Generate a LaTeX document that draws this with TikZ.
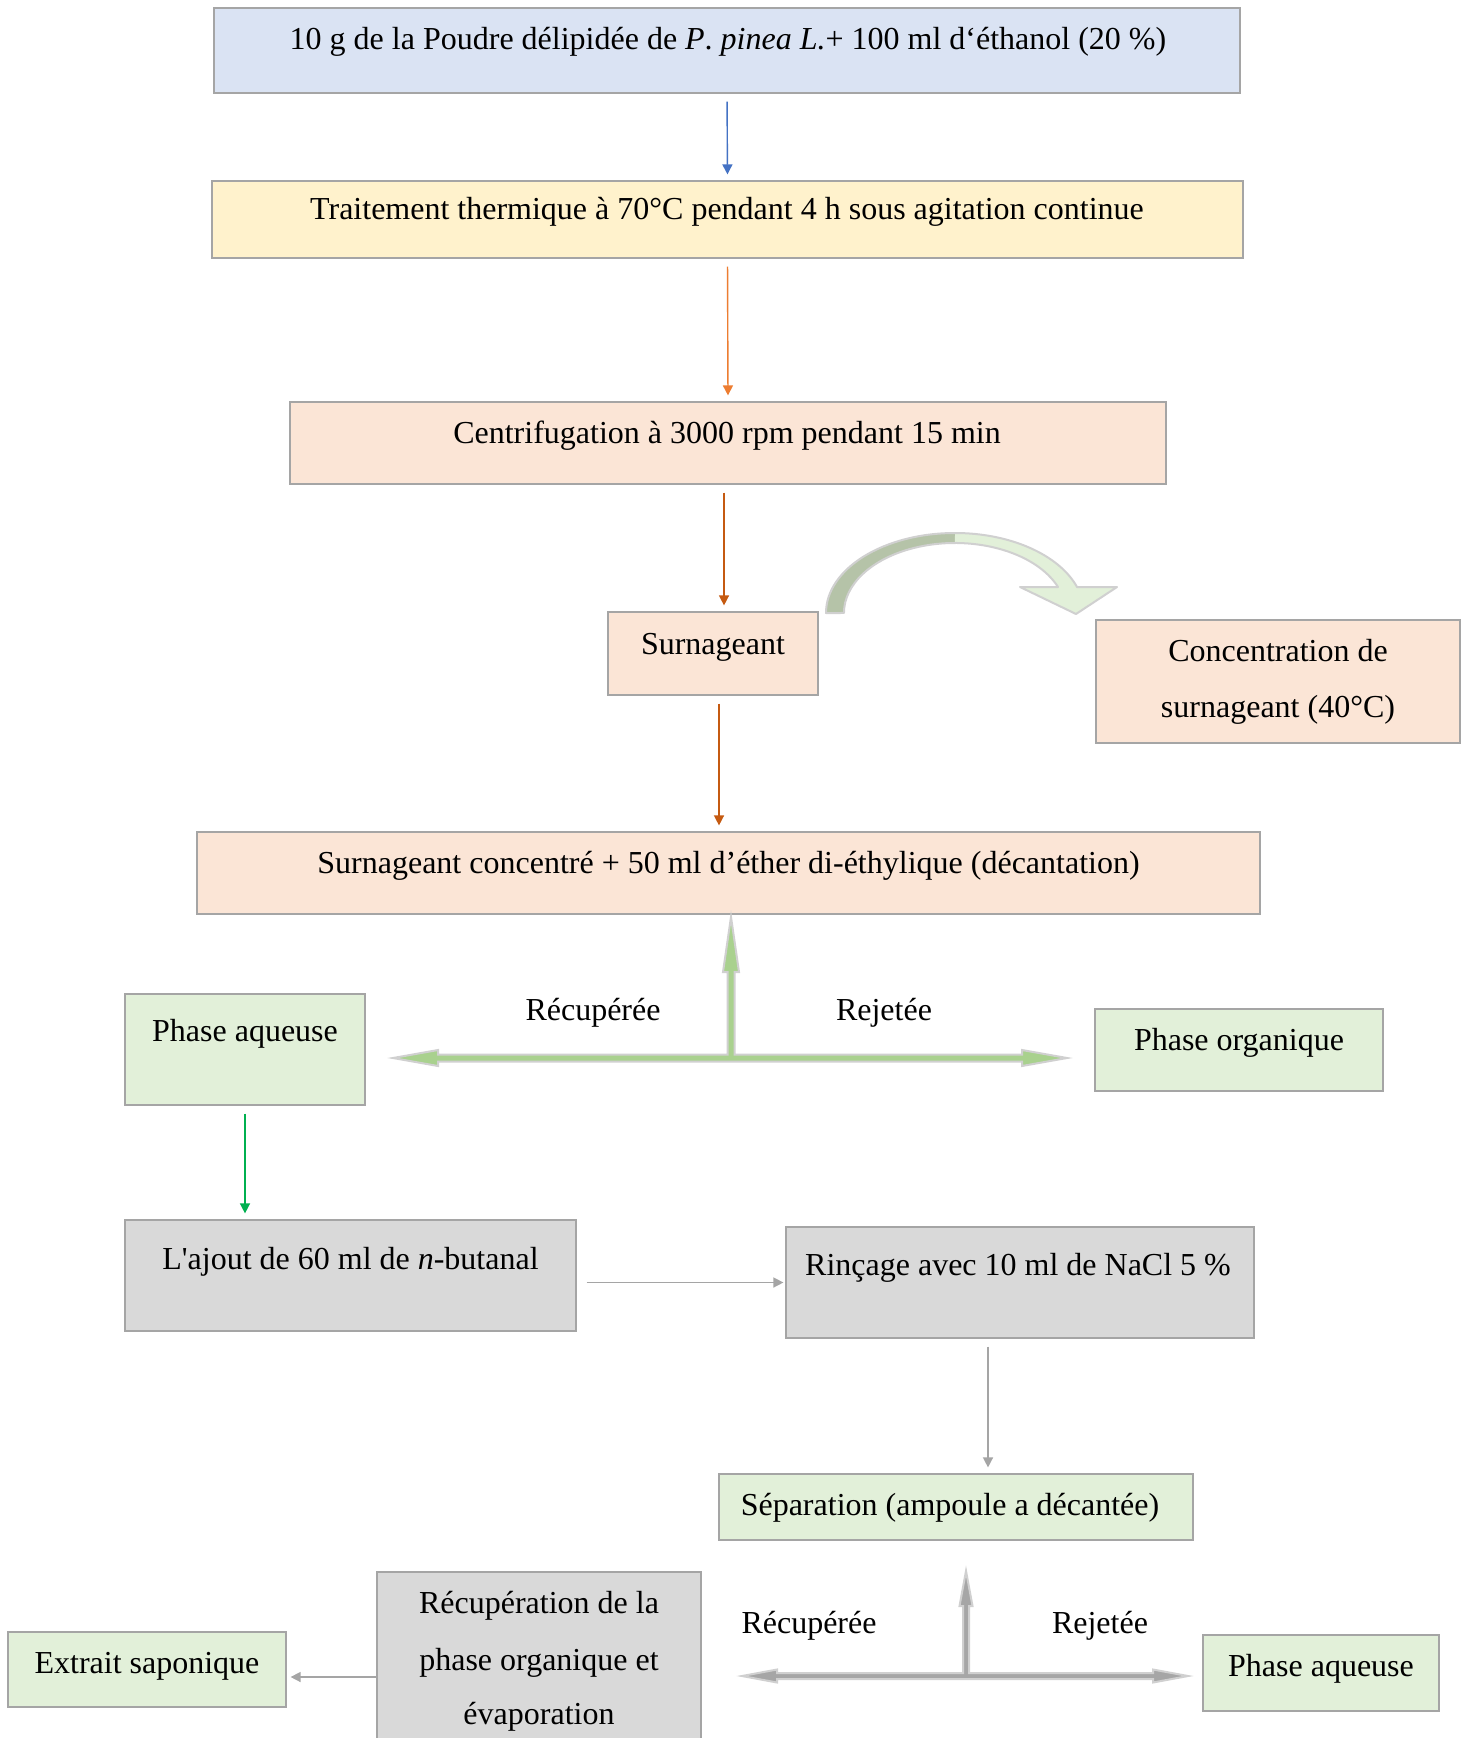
\documentclass[tikz,border=0pt]{standalone}
\usepackage{fontspec}
\setmainfont{Liberation Serif}[Ligatures=TeXOff]
\usetikzlibrary{arrows.meta,calc}
\definecolor{bord}{HTML}{A5A5A5}
\definecolor{fblue}{HTML}{DAE3F3}
\definecolor{fyel}{HTML}{FFF2CC}
\definecolor{fpeach}{HTML}{FBE5D6}
\definecolor{fgreen}{HTML}{E2F0D9}
\definecolor{fgray}{HTML}{D9D9D9}
\definecolor{ablue}{HTML}{4472C4}
\definecolor{aorange}{HTML}{ED7D31}
\definecolor{adkor}{HTML}{C55A11}
\definecolor{agreen}{HTML}{00B050}
\definecolor{agray}{HTML}{A5A5A5}
\definecolor{tgreenf}{HTML}{A9D18E}
\definecolor{tgrayf}{HTML}{A6A6A6}
\definecolor{toutl}{HTML}{D0D0D0}
\definecolor{cdark}{HTML}{B5C3A8}
\newcommand\mybox[6]{\node[box,fill=#6,minimum width={(#4-#2)*0.5pt},minimum height={(#5-#3)*0.5pt}] (#1) at ({(#2+#4)/2},{(#3+#5)/2}) {};}
\begin{document}
\begin{tikzpicture}[x=0.5pt,y=-0.5pt,
  box/.style={draw=bord,line width=0.6pt,inner sep=0pt,rectangle},
  txt/.style={font=\fontsize{16}{20}\selectfont,inner sep=0pt,anchor=base,yshift=-2.5pt},
  arr/.style={line width=0.7pt,-{Triangle[length=5pt,width=5pt]},shorten <=4pt,shorten >=3pt},
  tblock/.style={line width=1pt}]
\path[use as bounding box,fill=white] (0,0) rectangle (1467,1738);

% boxes
\mybox{top}{214}{8}{1240}{93}{fblue}
\mybox{trait}{212}{181}{1243}{258}{fyel}
\mybox{centri}{290}{402}{1166}{484}{fpeach}
\mybox{surn}{608}{612}{818}{695}{fpeach}
\mybox{conc}{1096}{620}{1460}{743}{fpeach}
\mybox{concd}{197}{832}{1260}{914}{fpeach}
\mybox{pa}{125}{994}{365}{1105}{fgreen}
\mybox{po}{1095}{1009}{1383}{1091}{fgreen}
\mybox{ajout}{125}{1220}{576}{1331}{fgray}
\mybox{rinc}{786}{1227}{1254}{1338}{fgray}
\mybox{sep}{719}{1474}{1193}{1540}{fgreen}
\mybox{recup}{377}{1572}{701}{1800}{fgray}
\mybox{extr}{8}{1632}{286}{1707}{fgreen}
\mybox{pa2}{1203}{1635}{1439}{1711}{fgreen}

% texts
\node[txt] at (728,45) {10 g de la Poudre délipidée de \textit{P}. \textit{pinea L.}+ 100 ml d‘éthanol (20 \%)};
\node[txt] at (727,215) {Traitement thermique à 70°C pendant 4 h sous agitation continue};
\node[txt] at (727,438) {Centrifugation à 3000 rpm pendant 15 min};
\node[txt] at (713,649) {Surnageant};
\node[txt] at (1278,656) {Concentration de};
\node[txt] at (1278,712) {surnageant (40°C)};
\node[txt] at (728.5,868) {Surnageant concentré + 50 ml d’éther di-éthylique (décantation)};
\node[txt] at (245,1036) {Phase aqueuse};
\node[txt] at (1239,1045) {Phase organique};
\node[txt] at (593,1015) {Récupérée};
\node[txt] at (884,1015) {Rejetée};
\node[txt] at (350.5,1264) {L'ajout de 60 ml de \textit{n}-butanal};
\node[txt] at (1018,1270) {Rinçage avec 10 ml de NaCl 5 \%};
\node[txt] at (950,1510) {Séparation (ampoule a décantée)};
\node[txt] at (539,1608) {Récupération de la};
\node[txt] at (539,1665) {phase organique et};
\node[txt] at (539,1719) {évaporation};
\node[txt] at (147,1668) {Extrait saponique};
\node[txt] at (1321,1671) {Phase aqueuse};
\node[txt] at (809,1628) {Récupérée};
\node[txt] at (1100,1628) {Rejetée};

% thin arrows
\draw[arr,ablue] (top.south) -- (trait.north);
\draw[arr,aorange] (trait.south) -- (centri.north);
\coordinate (s1) at ([xshift=5.5pt]surn.north);
\draw[arr,adkor] (s1 |- centri.south) -- (s1);
\coordinate (s2) at ([xshift=3pt]surn.south);
\draw[arr,adkor] (s2) -- (s2 |- concd.north);
\draw[arr,agreen] (pa.south) -- (pa.south |- ajout.north);
\draw[arr,agray,shorten <=5pt,shorten >=1pt] (ajout.east |- rinc.west) -- (rinc.west);
\coordinate (r1) at ([xshift=-16pt]rinc.south);
\draw[arr,agray] (r1) -- (r1 |- sep.north);
\coordinate (e1) at ([yshift=-3.75pt]extr.east);
\draw[arr,agray,shorten <=0pt,shorten >=2pt] (recup.west |- e1) -- (e1);

% green T block arrow
\filldraw[tblock,fill=tgreenf,draw=toutl] (393,1058) -- (438,1050) -- (438,1054.5) -- (727.5,1054.5) -- (727.5,972) -- (723,972) -- (731,917) -- (739,972) -- (734.5,972) -- (734.5,1054.5) -- (1022,1054.5) -- (1022,1050) -- (1067,1058) -- (1022,1066) -- (1022,1061.5) -- (438,1061.5) -- (438,1066) -- cycle;

% gray T block arrow
\filldraw[tblock,fill=tgrayf,draw=toutl] (742,1676) -- (777,1669.5) -- (777,1673) -- (963,1673) -- (963,1606) -- (959.5,1606) -- (966,1571) -- (972.5,1606) -- (969,1606) -- (969,1673) -- (1153,1673) -- (1153,1669.5) -- (1188,1676) -- (1153,1682.5) -- (1153,1679) -- (777,1679) -- (777,1682.5) -- cycle;

% curved arrow
\fill[cdark] (826,613) arc[start angle=180,end angle=270,x radius=129,y radius=80] -- (955,543) arc[start angle=270,end angle=180,x radius=111,y radius=70] -- cycle;
\fill[fgreen] (955,533) arc[start angle=270,end angle=341.1,x radius=129,y radius=80] -- (1117,587) -- (1076,614) -- (1020,587) -- (1058,587) arc[start angle=338.2,end angle=270,x radius=111,y radius=70] -- cycle;
\draw[tblock,draw=toutl,line join=round] (826,613) arc[start angle=180,end angle=341.1,x radius=129,y radius=80] -- (1117,587) -- (1076,614) -- (1020,587) -- (1058,587) arc[start angle=338.2,end angle=180,x radius=111,y radius=70] -- cycle;
\end{tikzpicture}
\end{document}
